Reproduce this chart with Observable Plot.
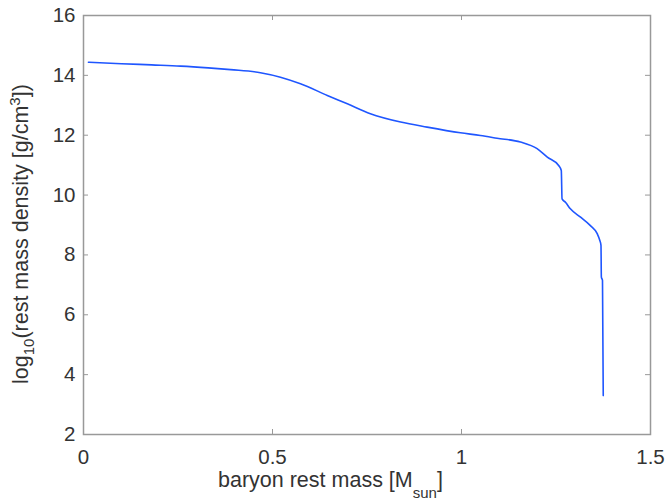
<!DOCTYPE html>
<html>
<head>
<meta charset="utf-8">
<script src="https://cdn.jsdelivr.net/npm/d3@7"></script>
<script src="https://cdn.jsdelivr.net/npm/@observablehq/plot@0.6"></script>
<style>
  html, body { margin: 0; padding: 0; background: #fff; }
  #chart svg { display: block; }
</style>
</head>
<body>
<div id="chart"></div>
<script>
const mass = [0.013, 0.10, 0.18, 0.257, 0.33, 0.389, 0.468, 0.521, 0.574, 0.645, 0.698, 0.759, 0.839, 0.909, 0.997, 1.05, 1.094, 1.156, 1.20, 1.227, 1.257, 1.264, 1.266, 1.275, 1.288, 1.315, 1.341, 1.359, 1.366, 1.369, 1.370, 1.373, 1.375];
const logRho = [14.44, 14.39, 14.35, 14.31, 14.25, 14.19, 14.09, 13.94, 13.72, 13.33, 13.05, 12.72, 12.44, 12.27, 12.08, 11.99, 11.90, 11.77, 11.55, 11.27, 10.99, 10.82, 9.87, 9.76, 9.54, 9.26, 8.98, 8.71, 8.48, 8.32, 7.26, 7.15, 3.30];
const xTicks = [0, 0.5, 1, 1.5];
const xTickLabels = ["0", "0.5", "1", "1.5"];
const yTicks = [2, 4, 6, 8, 10, 12, 14, 16];
const yTickLabels = ["2", "4", "6", "8", "10", "12", "14", "16"];

const data = mass.map((m, i) => ({m, r: logRho[i]}));

const W = 666, H = 501;
const mL = 83, mT = 15, mR = 16, mB = 67;
const innerW = W - mL - mR, innerH = H - mT - mB;
const tl = 5;
const font = "'Liberation Sans', Arial, Helvetica, sans-serif";
const fs = 20.5;

const svg = Plot.plot({
  width: W,
  height: H,
  marginLeft: mL, marginTop: mT, marginRight: mR, marginBottom: mB,
  style: {fontFamily: font, fontSize: fs + "px", color: "#333", background: "#fff"},
  x: {domain: [0, 1.5]},
  y: {domain: [2, 16]},
  marks: [
    Plot.axisX({ticks: xTicks, tickSize: 0, tickPadding: 15, label: null, fontSize: fs, tickFormat: (d) => xTickLabels[xTicks.indexOf(d)]}),
    Plot.axisY({ticks: yTicks, tickSize: 0, tickPadding: 8, label: null, fontSize: fs, tickFormat: (d) => yTickLabels[yTicks.indexOf(d)]}),
    Plot.tickX(xTicks, {x: d => d, stroke: "#999", insetTop: innerH - tl}),
    Plot.tickX(xTicks, {x: d => d, stroke: "#999", insetBottom: innerH - tl}),
    Plot.tickY(yTicks, {y: d => d, stroke: "#999", insetRight: innerW - tl}),
    Plot.tickY(yTicks, {y: d => d, stroke: "#999", insetLeft: innerW - tl}),
    Plot.line(data, {x: "m", y: "r", stroke: "#1f56ff", strokeWidth: 1.6, curve: "monotone-x"}),
    Plot.frame({stroke: "#999", strokeWidth: 1.5})
  ]
});

const s = d3.select(svg);
// x label with subscript
const xl = s.append("text")
  .attr("x", 218).attr("y", 487)
  .attr("text-anchor", "start")
  .attr("font-family", font).attr("font-size", 21.5).attr("fill", "#333");
xl.append("tspan").text("baryon rest mass [M");
xl.append("tspan").attr("font-size", 15).attr("dy", 11).text("sun");
xl.append("tspan").attr("dy", -11).text("]");

// y label with subscript and superscript
const yl = s.append("text")
  .attr("transform", "translate(28,384) rotate(-90)")
  .attr("text-anchor", "start")
  .attr("font-family", font).attr("font-size", 21.5).attr("fill", "#333");
yl.append("tspan").text("log");
yl.append("tspan").attr("font-size", 15).attr("dy", 6).text("10");
yl.append("tspan").attr("dy", -6).text("(rest mass density [g/cm");
yl.append("tspan").attr("font-size", 15).attr("dy", -8).text("3");
yl.append("tspan").attr("dy", 8).text("])");

document.getElementById("chart").appendChild(svg);
</script>
</body>
</html>
